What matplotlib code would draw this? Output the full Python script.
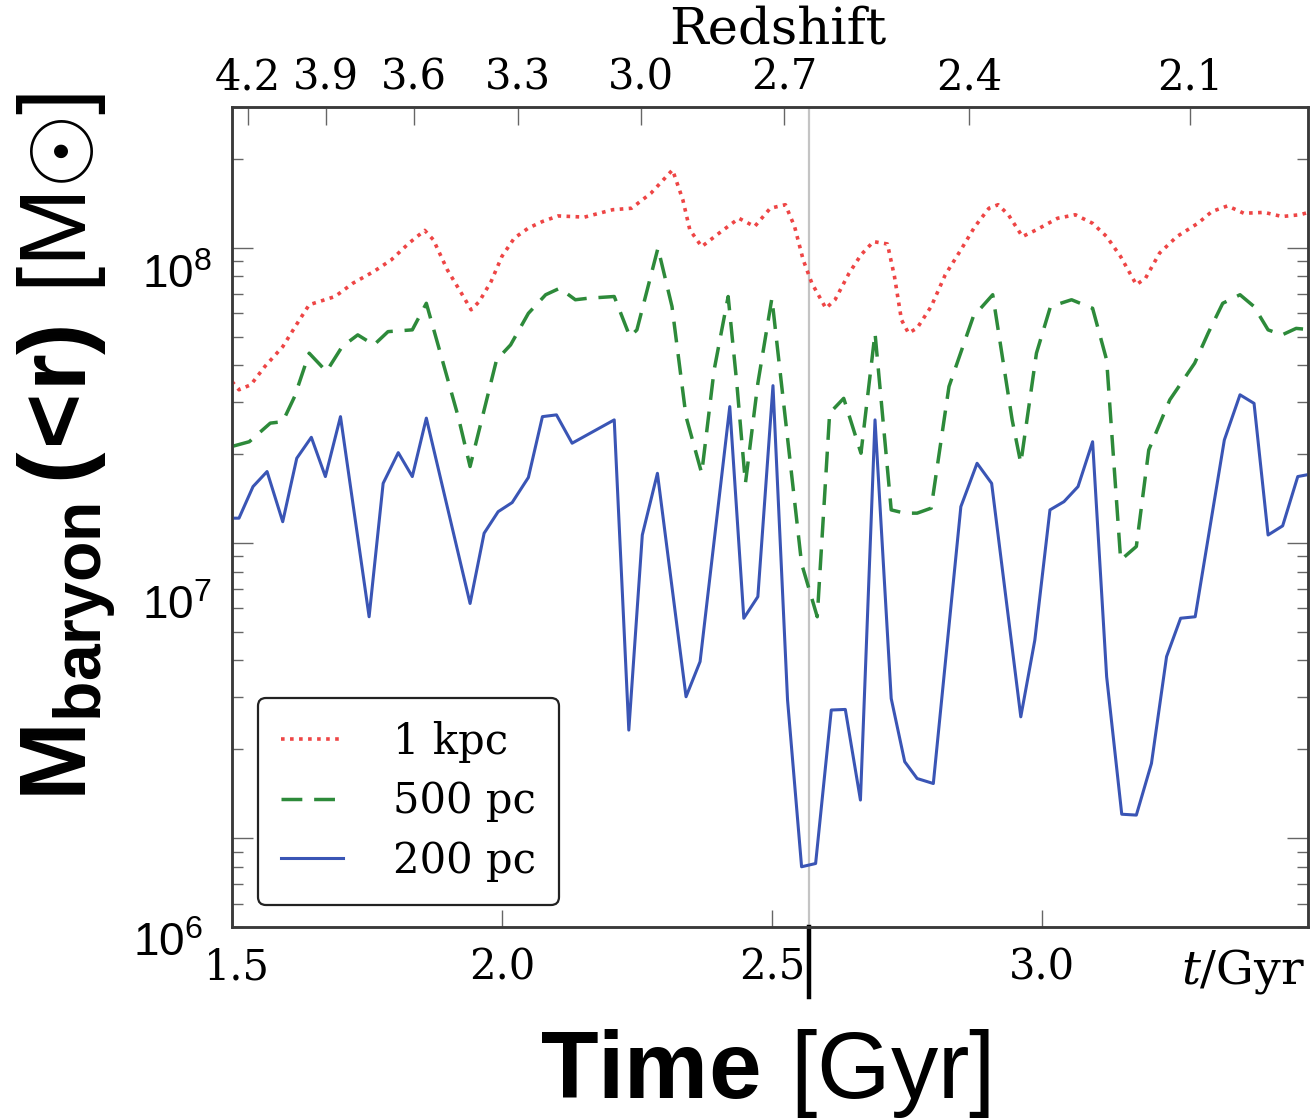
import numpy as np
import matplotlib
matplotlib.use("Agg")
import matplotlib.pyplot as plt
from matplotlib.transforms import ScaledTranslation

# cosmic time (Gyr) and log10 of enclosed baryon mass, one pair per radius
t_1kpc = [1.50, 1.513, 1.535, 1.561, 1.594, 1.623, 1.643, 1.672, 1.691, 1.724,
          1.763, 1.795, 1.828, 1.857, 1.873, 1.899, 1.925, 1.943, 1.958, 1.980,
          2.000, 2.023, 2.049, 2.075, 2.104, 2.153, 2.205, 2.240, 2.276, 2.316,
          2.335, 2.348, 2.370, 2.406, 2.439, 2.468, 2.497, 2.525, 2.542, 2.558,
          2.574, 2.600, 2.617, 2.643, 2.665, 2.688, 2.714, 2.727, 2.740, 2.753,
          2.769, 2.795, 2.821, 2.850, 2.876, 2.902, 2.919, 2.938, 2.964, 2.990,
          3.029, 3.062, 3.094, 3.120, 3.146, 3.175, 3.192, 3.218, 3.250, 3.289,
          3.315, 3.344, 3.374, 3.412, 3.445, 3.478, 3.500]
logm_1kpc = [7.547, 7.519, 7.536, 7.598, 7.665, 7.750, 7.807, 7.824, 7.835, 7.880,
             7.920, 7.959, 8.016, 8.059, 8.027, 7.925, 7.846, 7.790, 7.818, 7.886,
             7.971, 8.033, 8.067, 8.089, 8.108, 8.104, 8.129, 8.134, 8.185, 8.264,
             8.163, 8.061, 8.004, 8.055, 8.100, 8.072, 8.134, 8.146, 8.072, 7.959,
             7.880, 7.795, 7.824, 7.914, 7.976, 8.021, 8.013, 7.903, 7.756, 7.711,
             7.728, 7.801, 7.908, 7.993, 8.072, 8.134, 8.146, 8.112, 8.038, 8.061,
             8.100, 8.112, 8.083, 8.038, 7.970, 7.875, 7.897, 7.982, 8.038, 8.083,
             8.123, 8.142, 8.117, 8.120, 8.106, 8.112, 8.123]

t_500pc = [1.50, 1.532, 1.571, 1.594, 1.616, 1.643, 1.675, 1.704, 1.733, 1.763,
           1.789, 1.834, 1.860, 1.886, 1.919, 1.941, 1.964, 1.990, 2.016, 2.049,
           2.081, 2.107, 2.136, 2.159, 2.208, 2.237, 2.250, 2.289, 2.315, 2.341,
           2.370, 2.393, 2.419, 2.435, 2.451, 2.474, 2.500, 2.555, 2.584, 2.607,
           2.633, 2.665, 2.691, 2.721, 2.746, 2.769, 2.795, 2.828, 2.873, 2.909,
           2.945, 2.961, 2.990, 3.016, 3.055, 3.094, 3.120, 3.146, 3.175, 3.198,
           3.237, 3.283, 3.308, 3.335, 3.367, 3.393, 3.419, 3.445, 3.471, 3.500]
logm_500pc = [7.327, 7.343, 7.406, 7.411, 7.496, 7.643, 7.581, 7.665, 7.705, 7.671,
              7.716, 7.722, 7.812, 7.643, 7.428, 7.259, 7.428, 7.620, 7.671, 7.778,
              7.841, 7.863, 7.824, 7.829, 7.835, 7.699, 7.722, 7.999, 7.801, 7.428,
              7.236, 7.586, 7.835, 7.541, 7.202, 7.541, 7.829, 6.930, 6.750, 7.440,
              7.490, 7.304, 7.711, 7.112, 7.101, 7.101, 7.118, 7.530, 7.767, 7.841,
              7.417, 7.270, 7.643, 7.801, 7.824, 7.795, 7.620, 6.942, 6.988, 7.315,
              7.485, 7.609, 7.711, 7.812, 7.841, 7.801, 7.722, 7.705, 7.727, 7.722]

t_200pc = [1.50, 1.513, 1.539, 1.565, 1.594, 1.620, 1.647, 1.673, 1.701, 1.754,
           1.780, 1.808, 1.834, 1.860, 1.941, 1.967, 1.993, 2.019, 2.049, 2.075,
           2.101, 2.130, 2.208, 2.235, 2.260, 2.288, 2.341, 2.367, 2.422, 2.448,
           2.474, 2.502, 2.529, 2.555, 2.581, 2.610, 2.636, 2.664, 2.691, 2.721,
           2.746, 2.769, 2.799, 2.850, 2.880, 2.907, 2.961, 2.987, 3.015, 3.041,
           3.067, 3.094, 3.120, 3.148, 3.175, 3.203, 3.231, 3.257, 3.284, 3.338,
           3.367, 3.393, 3.419, 3.446, 3.474, 3.500]
logm_200pc = [7.084, 7.084, 7.191, 7.242, 7.072, 7.287, 7.358, 7.225, 7.428, 6.750,
              7.202, 7.306, 7.225, 7.423, 6.795, 7.033, 7.106, 7.137, 7.222, 7.428,
              7.434, 7.338, 7.417, 6.366, 7.027, 7.236, 6.479, 6.598, 7.462, 6.745,
              6.818, 7.533, 6.468, 5.903, 5.914, 6.434, 6.436, 6.129, 7.417, 6.473,
              6.259, 6.202, 6.185, 7.123, 7.270, 7.202, 6.411, 6.671, 7.112, 7.140,
              7.191, 7.343, 6.547, 6.081, 6.078, 6.253, 6.615, 6.745, 6.750, 7.349,
              7.502, 7.473, 7.027, 7.058, 7.225, 7.234]

series_labels = ["1 kpc", "500 pc", "200 pc"]

# top axis: redshift labels at the matching cosmic times
redshift_labels = ["4.2", "3.9", "3.6", "3.3", "3.0", "2.7", "2.4", "2.1"]
redshift_times = [1.530, 1.674, 1.837, 2.030, 2.257, 2.522, 2.865, 3.274]

time_ticks = [1.5, 2.0, 2.5, 3.0]
time_ticklabels = ["1.5", "2.0", "2.5", "3.0"]
t_marker = 2.568
y_powers = [8, 7, 6]

plt.rcParams["font.family"] = ["DejaVu Serif"]
plt.rcParams["mathtext.fontset"] = "custom"
plt.rcParams["mathtext.rm"] = "Liberation Sans"
plt.rcParams["mathtext.bf"] = "Liberation Sans:bold"
plt.rcParams["mathtext.it"] = "DejaVu Serif:italic"

fig = plt.figure(figsize=(13.15, 11.19), dpi=100)
ax = fig.add_axes([0.1764, 0.1716, 0.8183, 0.7328])

ax.axvline(t_marker, color="#c4c4c4", lw=1.6, zorder=1)
ax.axvline(t_marker, ymin=-0.085, ymax=0, color="black", lw=3.2, clip_on=False)

ax.plot(t_1kpc, 10 ** np.array(logm_1kpc), color="#ee4545", lw=2.6,
        ls=(0, (1, 1.5)), label=series_labels[0], zorder=3)
ax.plot(t_500pc, 10 ** np.array(logm_500pc), color="#2d8a3a", lw=2.5,
        dashes=(6, 3.4), label=series_labels[1], zorder=3)
ax.plot(t_200pc, 10 ** np.array(logm_200pc), color="#3a55b5", lw=2.2,
        label=series_labels[2], zorder=3)

ax.set_yscale("log")
ax.set_xlim(1.5, 3.493)
ax.set_ylim(5e5, 3e8)

ax.set_xticks(time_ticks)
ax.set_xticklabels(time_ticklabels)
ax.tick_params(axis="x", direction="in", length=12, width=1, color="#666666",
               labelsize=30, pad=14, top=False)
ax.tick_params(axis="y", which="major", direction="in", length=15, width=1,
               color="#666666", right=True, labelleft=False)
ax.tick_params(axis="y", which="minor", direction="in", length=8, width=1,
               color="#666666", right=True, labelleft=False)
first = ax.get_xticklabels()[0]
first.set_transform(first.get_transform() + ScaledTranslation(5 / 100, 0, fig.dpi_scale_trans))

ax2 = ax.twiny()
ax2.set_xlim(ax.get_xlim())
ax2.set_xticks(redshift_times)
ax2.set_xticklabels(redshift_labels)
ax2.tick_params(axis="x", direction="in", length=13, width=1, color="#666666",
                labelsize=30, pad=6)
ax2.set_xlabel("Redshift", fontsize=37)
ax2.xaxis.set_label_coords(0.507, 1.078)

for a in (ax, ax2):
    for sp in a.spines.values():
        sp.set_linewidth(1.8)
        sp.set_color("#3a3a3a")

# y labels sit where they appear in the reference figure
for p, yb, xr in zip(y_powers, [0.779, 0.3756, -0.0354], [-0.0186, -0.0186, -0.027]):
    ax.text(xr, yb, rf"$10^{{{p}}}$", transform=ax.transAxes,
            ha="right", va="baseline", fontsize=33)

ax.text(0.94, -0.0695, r"$t$/Gyr", transform=ax.transAxes,
        ha="center", va="baseline", fontsize=34)

leg = ax.legend(loc="lower left", bbox_to_anchor=(0.024, 0.027), borderaxespad=0,
                fontsize=30, handlelength=1.5, handletextpad=1.2, borderpad=0.55,
                labelspacing=0.42, fancybox=True, framealpha=1, edgecolor="#222222")
leg.get_frame().set_linewidth(1.6)

fig.text(66 / 1315, 1 - 447 / 1119,
         r"$\mathbf{M_{baryon}\,(\!<\!r)}\ \mathrm{[M}{\odot}\mathrm{]}$",
         rotation=90, ha="center", va="center", fontsize=68)
fig.text(765 / 1315, 1 - 1074 / 1119, r"$\mathbf{Time}\ \mathrm{[Gyr]}$",
         ha="center", va="center", fontsize=68)

fig.savefig("out.png", dpi=100)
